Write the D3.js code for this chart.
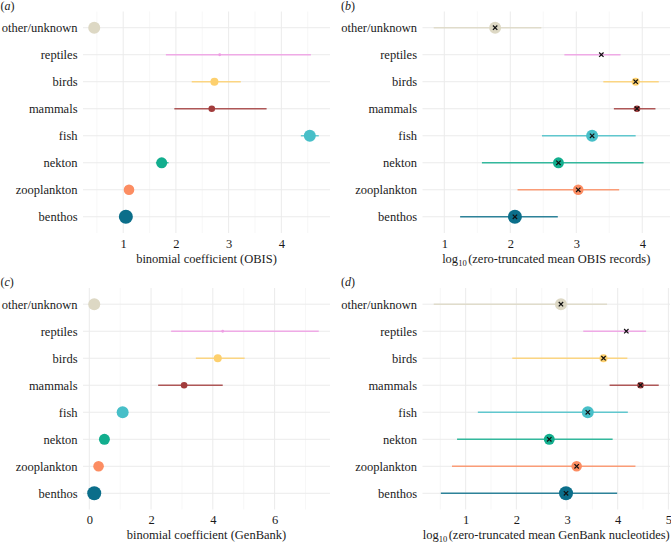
<!DOCTYPE html>
<html>
<head>
<meta charset="utf-8">
<script src="https://cdn.jsdelivr.net/npm/d3@7"></script>
<style>
  body { margin: 0; background: #fff; }
  svg { display: block; }
  svg text { font-family: 'Liberation Serif', 'Times New Roman', serif; }
</style>
</head>
<body>
<div id="chart"></div>
<script>
// categories, top to bottom
let groups = ["other/unknown", "reptiles", "birds", "mammals", "fish", "nekton", "zooplankton", "benthos"]
let colours = ["#ddd8c4", "#ee9ee4", "#fdd06e", "#a23c3c", "#47bfc8", "#12ae8e", "#fc8d62", "#0b6e8a"]
// relative sample size (read from point area)
let nRel = [36, 2, 16, 11, 36, 30, 28, 49]

// (a) binomial coefficient, OBIS
let obisCoef   = [0.45, 2.83, 2.73, 2.68, 4.54, 1.73, 1.11, 1.05]
let obisCoefLo = [null, 1.81, 2.30, 1.97, 4.37, 1.62, 1.06, 1.00]
let obisCoefHi = [null, 4.56, 3.23, 3.72, 4.71, 1.86, 1.17, 1.10]

// (b) log10 zero-truncated mean OBIS records
let obisMean   = [1.77, 3.38, 3.90, 3.92, 3.24, 2.73, 3.03, 2.07]
let obisMeanLo = [0.84, 2.82, 3.41, 3.57, 2.48, 1.57, 2.11, 1.24]
let obisMeanHi = [2.47, 3.67, 4.25, 4.20, 3.90, 4.02, 3.65, 2.72]

// (c) binomial coefficient, GenBank
let gbCoef   = [0.16, 4.32, 4.16, 3.07, 1.08, 0.49, 0.30, 0.16]
let gbCoefLo = [null, 2.65, 3.45, 2.23, null, null, null, null]
let gbCoefHi = [null, 7.43, 5.03, 4.32, null, null, null, null]

// (d) log10 zero-truncated mean GenBank nucleotides
let gbMean   = [2.88, 4.17, 3.72, 4.45, 3.41, 2.65, 3.19, 2.98]
let gbMeanLo = [0.37, 3.32, 1.92, 3.84, 1.24, 0.83, 0.73, 0.51]
let gbMeanHi = [3.79, 4.56, 4.19, 4.81, 4.20, 3.90, 4.35, 3.99]

let FONT = "'Liberation Serif', 'Times New Roman', serif"

let panels = [
  {tag: "a", est: obisCoef, lo: obisCoefLo, hi: obisCoefHi, cross: false, ticks: [1, 2, 3, 4],
   title: ["binomial coefficient (OBIS)"], box: {x0: 83, x1: 330, y0: 11.5, y1: 233}},
  {tag: "b", est: obisMean, lo: obisMeanLo, hi: obisMeanHi, cross: true, ticks: [1, 2, 3, 4],
   title: ["log", "10", "(zero-truncated mean OBIS records)"], box: {x0: 422.5, x1: 670, y0: 11.5, y1: 233}},
  {tag: "c", est: gbCoef, lo: gbCoefLo, hi: gbCoefHi, cross: false, ticks: [0, 2, 4, 6],
   title: ["binomial coefficient (GenBank)"], box: {x0: 83, x1: 330, y0: 288, y1: 509.5}},
  {tag: "d", est: gbMean, lo: gbMeanLo, hi: gbMeanHi, cross: true, ticks: [1, 2, 3, 4, 5],
   title: ["log", "10", "(zero-truncated mean GenBank nucleotides)"], box: {x0: 422.5, x1: 670, y0: 288, y1: 509.5}}
]

let svg = d3.select("#chart").append("svg")
  .attr("width", 671)
  .attr("height", 548)

let r = d3.scaleSqrt().domain([0, 49]).range([0, 7])

panels.forEach(p => {
  let b = p.box
  let data = groups.map((g, i) => ({g: g, est: p.est[i], lo: p.lo[i], hi: p.hi[i], col: colours[i], n: nRel[i]}))

  // ggplot-like 5% expansion of the data range
  let vals = data.flatMap(d => [d.est, d.lo, d.hi]).filter(v => v != null)
  let ext = d3.extent(vals), pad = (ext[1] - ext[0]) * 0.05
  let x = d3.scaleLinear().domain([ext[0] - pad, ext[1] + pad]).range([b.x0, b.x1])
  let y = d3.scalePoint().domain(groups).range([b.y0, b.y1]).padding(0.6)

  let g = svg.append("g")

  // minor grid (half-steps)
  let step = p.ticks[1] - p.ticks[0]
  let minor = d3.range(Math.ceil((x.domain()[0] - step / 2) / step) * step + step / 2, x.domain()[1], step)
  g.selectAll(".minor").data(minor).enter().append("line")
    .attr("x1", d => x(d)).attr("x2", d => x(d))
    .attr("y1", b.y0).attr("y2", b.y1)
    .attr("stroke", "#f2f2f2").attr("stroke-width", 0.6)

  // major grid
  g.selectAll(".vmajor").data(p.ticks).enter().append("line")
    .attr("x1", d => x(d)).attr("x2", d => x(d))
    .attr("y1", b.y0).attr("y2", b.y1)
    .attr("stroke", "#ebebeb").attr("stroke-width", 1)
  g.selectAll(".hmajor").data(groups).enter().append("line")
    .attr("x1", b.x0).attr("x2", b.x1)
    .attr("y1", d => y(d)).attr("y2", d => y(d))
    .attr("stroke", "#ebebeb").attr("stroke-width", 1)

  // axes
  let ax = g.append("g")
    .attr("transform", "translate(0," + b.y1 + ")")
    .call(d3.axisBottom(x).tickValues(p.ticks).tickFormat(d3.format("d")).tickSize(0).tickPadding(6))
  ax.select(".domain").remove()
  let ay = g.append("g")
    .attr("transform", "translate(" + b.x0 + ",0)")
    .call(d3.axisLeft(y).tickSize(0).tickPadding(5.5))
  ay.select(".domain").remove()
  ax.attr("font-family", FONT).attr("font-size", 12.5)
  ay.attr("font-family", FONT).attr("font-size", 12.5)
  g.selectAll(".tick text")
    .style("font-family", FONT)
    .style("font-size", "12.5px")
    .attr("fill", "#1a1a1a")

  // axis title
  let t = g.append("text")
    .attr("x", (b.x0 + b.x1) / 2)
    .attr("y", b.y1 + 29.5)
    .attr("text-anchor", "middle")
    .style("font-family", FONT)
    .style("font-size", "12.5px")
    .attr("fill", "#1a1a1a")
  if (p.title.length == 1) {
    t.text(p.title[0])
  } else {
    t.append("tspan").text(p.title[0])
    t.append("tspan").attr("dy", 3).style("font-size", "8.5px").text(p.title[1])
    t.append("tspan").attr("dy", -3).attr("dx", 1.5).text(p.title[2])
  }

  // panel tag
  let lab = svg.append("text")
    .attr("x", b.x0 < 200 ? 0.5 : 341)
    .attr("y", b.y0 - 2)
    .style("font-family", FONT)
    .style("font-size", "12px")
    .attr("fill", "#1a1a1a")
  lab.append("tspan").text("(")
  lab.append("tspan").style("font-style", "italic").text(p.tag)
  lab.append("tspan").text(")")

  // error bars
  g.selectAll(".err").data(data.filter(d => d.lo != null)).enter().append("line")
    .attr("x1", d => x(d.lo)).attr("x2", d => x(d.hi))
    .attr("y1", d => y(d.g)).attr("y2", d => y(d.g))
    .attr("stroke", d => d.col)
    .attr("stroke-opacity", 0.85)
    .attr("stroke-width", 1.4)

  // points
  g.selectAll(".pt").data(data).enter().append("circle")
    .attr("cx", d => x(d.est)).attr("cy", d => y(d.g))
    .attr("r", d => r(d.n))
    .attr("fill", d => d.col)

  // crosses on the mean panels
  if (p.cross) {
    let s = 2.2
    let cr = g.selectAll(".cross").data(data).enter().append("g")
      .attr("transform", d => "translate(" + x(d.est) + "," + y(d.g) + ")")
    cr.append("path")
      .attr("d", "M" + -s + "," + -s + "L" + s + "," + s + "M" + -s + "," + s + "L" + s + "," + -s)
      .attr("stroke", "#111")
      .attr("stroke-width", 1.2)
  }
})
</script>
</body>
</html>
